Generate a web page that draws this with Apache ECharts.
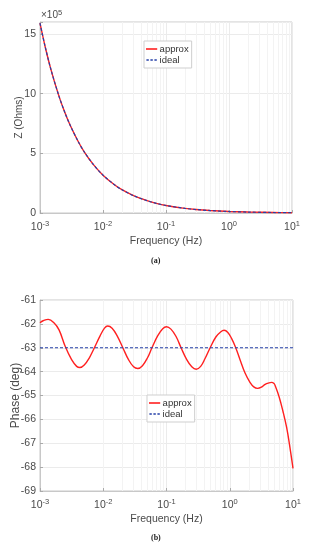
<!DOCTYPE html>
<html>
<head>
<meta charset="utf-8">
<script src="https://cdn.jsdelivr.net/npm/echarts@6/dist/echarts.min.js"></script>
<style>
html,body{margin:0;padding:0;background:#fff;}
#chart{width:310px;height:550px;}
</style>
</head>
<body>
<div id="chart"></div>
<script>
// ---- Data ----
// Panel (a): impedance magnitude, in units of 1e5 Ohms
const freqZ = [0.001, 0.0012, 0.0015, 0.002, 0.0025, 0.003, 0.004, 0.005, 0.007, 0.01, 0.015, 0.02, 0.03, 0.05, 0.07, 0.1, 0.2, 0.3, 0.5, 1, 2, 5, 10];
const zApprox = [15.9, 13.99, 11.97, 9.79, 8.37, 7.37, 6.03, 5.15, 4.07, 3.17, 2.39, 1.95, 1.47, 1.03, 0.81, 0.63, 0.39, 0.29, 0.205, 0.126, 0.078, 0.041, 0.025];
const zIdeal  = [15.9, 13.99, 11.97, 9.79, 8.37, 7.37, 6.03, 5.15, 4.07, 3.17, 2.39, 1.95, 1.47, 1.03, 0.81, 0.63, 0.39, 0.29, 0.205, 0.126, 0.078, 0.041, 0.025];

// Panel (b): phase in degrees
const freqPhase = [0.001, 0.00112, 0.00135, 0.00166, 0.00200, 0.00251, 0.00316, 0.00380, 0.00427, 0.00501, 0.00603, 0.00724, 0.00891,
  0.01047, 0.01175, 0.0138, 0.0166, 0.0204, 0.0251, 0.0302, 0.0351, 0.0417, 0.0501, 0.0589, 0.0724, 0.0871,
  0.100, 0.1175, 0.141, 0.170, 0.209, 0.251, 0.295, 0.347, 0.407, 0.490, 0.603, 0.724,
  0.813, 0.933, 1.072, 1.230, 1.445, 1.738, 2.089, 2.399, 2.754, 3.162, 3.631, 4.169, 4.571, 5.012, 5.248, 6.026, 6.918, 7.943, 8.913, 10];
const phaseApprox = [-61.95, -61.87, -61.81, -61.95, -62.25, -62.95, -63.50, -63.78, -63.83, -63.72, -63.42, -63.00, -62.50,
  -62.18, -62.09, -62.18, -62.50, -63.00, -63.50, -63.80, -63.87, -63.75, -63.42, -63.00, -62.50, -62.20,
  -62.12, -62.22, -62.52, -63.00, -63.50, -63.80, -63.90, -63.78, -63.45, -63.00, -62.55, -62.33,
  -62.27, -62.36, -62.62, -62.97, -63.48, -64.05, -64.45, -64.64, -64.70, -64.65, -64.53, -64.47, -64.45, -64.50, -64.60, -65.05, -65.65, -66.35, -67.15, -68.05];
const freqIdeal = [0.001, 10];
const phaseIdeal = [-63, -63];

const minorMultipliers = [2, 3, 4, 5, 6, 7, 8, 9];
const decades = [0.001, 0.01, 0.1, 1];

// ---- Styles ----
const FONT = 'Liberation Sans';
const TXT = '#4a4a4a';
const GRID = '#ebebeb';
const AXIS = '#c8c8c8';
const RED = '#ff2020';
const BLUE = '#2640a8';

function pairs(xs, ys) { return xs.map((x, i) => [x, ys[i]]); }

const minorLines = [];
decades.forEach(d => minorMultipliers.forEach(m => minorLines.push({ xAxis: +(d * m).toPrecision(3) })));

function logXAxis(gridIndex) {
  return {
    type: 'log', logBase: 10, min: 0.001, max: 10, gridIndex,
    name: 'Frequency (Hz)', nameLocation: 'middle', nameGap: 23, nameMoveOverlap: false,
    nameTextStyle: { fontFamily: FONT, fontSize: 10.5, color: TXT },
    axisLine: { show: true, lineStyle: { color: AXIS } },
    axisTick: { show: true, inside: true, length: 3, lineStyle: { color: '#aaa' } },
    splitLine: { show: true, lineStyle: { color: GRID } },
    axisLabel: {
      margin: 7, fontFamily: FONT, fontSize: 10.5, color: TXT,
      formatter: v => '10{sup|' + Math.round(Math.log10(v)) + '}',
      rich: { sup: { fontFamily: FONT, fontSize: 7.5, color: TXT, verticalAlign: 'bottom', padding: [0, 0, 6, 0] } }
    }
  };
}

function minorSeries(xi, yi) {
  return {
    name: 'minor', type: 'line', xAxisIndex: xi, yAxisIndex: yi, data: [], silent: true, z: 0,
    markLine: {
      silent: true, symbol: 'none', label: { show: false }, z: 0,
      lineStyle: { color: '#f3f3f3', type: 'solid', width: 1 },
      data: minorLines, animation: false
    }
  };
}

const lineIcon = 'path://M0,0 H14 V2 H0 Z';
const dashIcon = 'path://M0,0 H3 V2 H0 Z M5,0 H8 V2 H5 Z M10,0 H13 V2 H10 Z';

const legendCommon = {
  orient: 'vertical', itemWidth: 14, itemHeight: 1.6, itemGap: 1,
  padding: [3, 3, 3, 2], borderColor: '#cfcfcf', borderWidth: 1, backgroundColor: '#fff',
  textStyle: { fontFamily: FONT, fontSize: 9.5, color: '#333', padding: [0, 0, 0, -4] },
  data: [{ name: 'approx', icon: lineIcon }, { name: 'ideal', icon: dashIcon }]
};

const chart = echarts.init(document.getElementById('chart'), null, { renderer: 'canvas' });
chart.setOption({
  animation: false,
  backgroundColor: '#fff',
  grid: [
    { left: 40, top: 22, width: 252, height: 191, show: true, borderColor: AXIS, borderWidth: 1, backgroundColor: 'transparent' },
    { left: 40, top: 300, width: 253, height: 191, show: true, borderColor: AXIS, borderWidth: 1, backgroundColor: 'transparent' }
  ],
  legend: [
    Object.assign({ left: 144, top: 41 }, legendCommon),
    Object.assign({ left: 147, top: 395 }, legendCommon)
  ],
  xAxis: [logXAxis(0), logXAxis(1)],
  yAxis: [
    {
      type: 'value', gridIndex: 0, min: 0, max: 16, interval: 5,
      name: 'Z (Ohms)', nameLocation: 'middle', nameGap: 16, nameMoveOverlap: false,
      nameTextStyle: { fontFamily: FONT, fontSize: 10, color: TXT },
      axisLine: { show: true, lineStyle: { color: AXIS } },
      axisTick: { show: true, inside: true, length: 3, lineStyle: { color: '#aaa' } },
      splitLine: { show: true, lineStyle: { color: GRID } },
      axisLabel: { fontFamily: FONT, fontSize: 10.5, color: TXT, margin: 4, formatter: v => (v === 16 ? '' : String(v)) }
    },
    {
      type: 'value', gridIndex: 1, min: -69, max: -61, interval: 1,
      name: 'Phase (deg)', nameLocation: 'middle', nameGap: 18, nameMoveOverlap: false,
      nameTextStyle: { fontFamily: FONT, fontSize: 12, color: TXT },
      axisLine: { show: true, lineStyle: { color: AXIS } },
      axisTick: { show: true, inside: true, length: 3, lineStyle: { color: '#aaa' } },
      splitLine: { show: true, lineStyle: { color: GRID } },
      axisLabel: { fontFamily: FONT, fontSize: 10.5, color: TXT, margin: 4 }
    }
  ],
  graphic: [
    { type: 'text', left: 41, top: 9, style: { rich: { b: { fontFamily: FONT, fontSize: 10, fill: TXT }, s: { fontFamily: FONT, fontSize: 7.5, fill: TXT, verticalAlign: 'bottom', padding: [0, 0, 5, 0] } }, text: '{b|×10}{s|5}' } },
    { type: 'text', left: 151, top: 257, style: { text: '(a)', fontFamily: 'Liberation Serif', fontWeight: 'bold', fontSize: 8, fill: '#222' } },
    { type: 'text', left: 151, top: 534, style: { text: '(b)', fontFamily: 'Liberation Serif', fontWeight: 'bold', fontSize: 8, fill: '#222' } }
  ],
  series: [
    minorSeries(0, 0),
    minorSeries(1, 1),
    {
      name: 'approx', type: 'line', xAxisIndex: 0, yAxisIndex: 0, data: pairs(freqZ, zApprox), z: 3,
      showSymbol: false, symbol: 'none', smooth: 0.3, lineStyle: { color: RED, width: 1.4 }, itemStyle: { color: RED }
    },
    {
      name: 'ideal', type: 'line', xAxisIndex: 0, yAxisIndex: 0, data: pairs(freqZ, zIdeal), z: 4,
      showSymbol: false, symbol: 'none', smooth: 0.3, lineStyle: { color: BLUE, width: 1.2, type: [3, 2] }, itemStyle: { color: BLUE }
    },
    {
      name: 'approx', type: 'line', xAxisIndex: 1, yAxisIndex: 1, data: pairs(freqPhase, phaseApprox), z: 3,
      showSymbol: false, symbol: 'none', smooth: 0.4, lineStyle: { color: RED, width: 1.4 }, itemStyle: { color: RED }
    },
    {
      name: 'ideal', type: 'line', xAxisIndex: 1, yAxisIndex: 1, data: pairs(freqIdeal, phaseIdeal), z: 4,
      showSymbol: false, symbol: 'none', lineStyle: { color: BLUE, width: 1.2, type: [3, 2] }, itemStyle: { color: BLUE }
    }
  ]
});
</script>
</body>
</html>
